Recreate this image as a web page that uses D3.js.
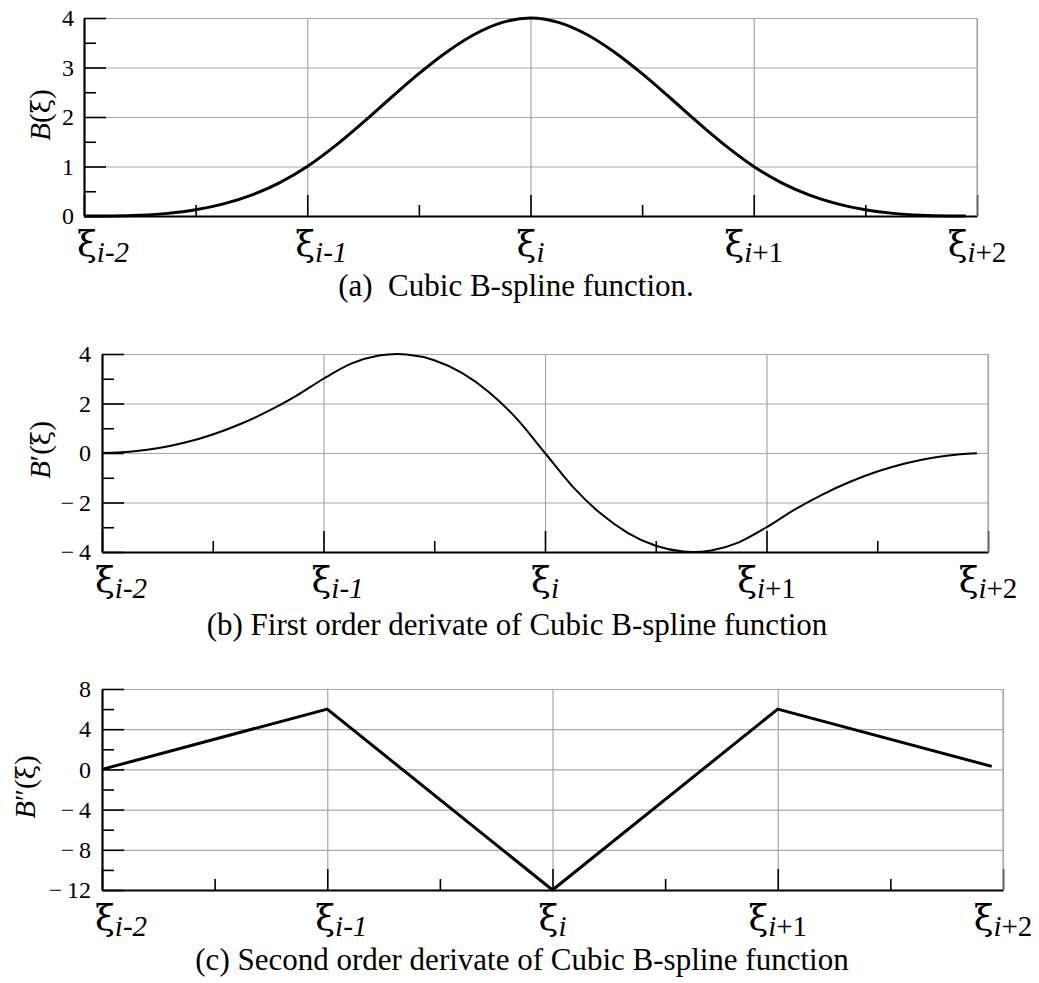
<!DOCTYPE html>
<html>
<head>
<meta charset="utf-8">
<script src="https://cdn.jsdelivr.net/npm/d3@7"></script>
<style>
  body { margin: 0; background: #fff; }
  svg { display: block; }
</style>
</head>
<body>
<div id="chart"></div>
<script>
// knots of the spline, in units of the knot spacing
const knots = [-2, -1, 0, 1, 2];
const knotSubs = ["-2", "-1", "", "+1", "+2"];
const minorKnots = [-1.5, -0.5, 0.5, 1.5];

// (a) B(xi)
const xsB = [-2, -1.875, -1.75, -1.625, -1.5, -1.375, -1.25, -1.125, -1, -0.875, -0.75, -0.625, -0.5, -0.375, -0.25, -0.125, 0,
  0.125, 0.25, 0.375, 0.5, 0.625, 0.75, 0.875, 1, 1.125, 1.25, 1.375, 1.5, 1.625, 1.75, 1.875, 1.95];
const valuesB = [0, 0.002, 0.016, 0.053, 0.125, 0.244, 0.422, 0.670, 1, 1.416, 1.891, 2.389, 2.875, 3.314, 3.672, 3.912, 4,
  3.912, 3.672, 3.314, 2.875, 2.389, 1.891, 1.416, 1, 0.670, 0.422, 0.244, 0.125, 0.053, 0.016, 0.002, 0];
const yMajorB = [0, 1, 2, 3, 4];
const yMinorB = [0.5, 1.5, 2.5, 3.5];

// (b) B'(xi)
const xsB1 = [-2, -1.875, -1.75, -1.625, -1.5, -1.375, -1.25, -1.125, -1, -0.875, -0.75, -0.667, -0.625, -0.5, -0.375, -0.25, -0.125, 0,
  0.125, 0.25, 0.375, 0.5, 0.625, 0.667, 0.75, 0.875, 1, 1.125, 1.25, 1.375, 1.5, 1.625, 1.75, 1.875, 1.95];
const valuesB1 = [0, 0.047, 0.188, 0.422, 0.75, 1.172, 1.688, 2.297, 3, 3.609, 3.938, 4, 3.984, 3.75, 3.234, 2.438, 1.359, 0,
  -1.359, -2.438, -3.234, -3.75, -3.984, -4, -3.938, -3.609, -3, -2.297, -1.688, -1.172, -0.75, -0.422, -0.188, -0.047, -0.008];
const yMajorB1 = [-4, -2, 0, 2, 4];
const yMinorB1 = [-3, -1, 1, 3];

// (c) B''(xi)
const xsB2 = [-2, -1, 0, 1, 1.95];
const valuesB2 = [0, 6, -12, 6, 0.3];
const yMajorB2 = [-12, -8, -4, 0, 4, 8];
const yMinorB2 = [-10, -6, -2, 2, 6];

const captions = [
  "(a)\u00a0 Cubic B-spline function.",
  "(b)\u00a0First order derivate of Cubic B-spline function",
  "(c) Second order derivate of Cubic B-spline function"
];

const width = 1039, height = 983;
const serif = "'Liberation Serif', 'Times New Roman', serif";
const greek = "'DejaVu Serif', serif";
const gridColor = "#a8a8a8";

const svg = d3.select("#chart").append("svg")
    .attr("width", width)
    .attr("height", height)
    .style("background", "#fff");

function fmtTick(d) {
  return d < 0 ? "\u2212\u2009" + Math.abs(d) : String(d);
}

function drawPanel(p) {
  const g = svg.append("g");
  const x = d3.scaleLinear().domain([-2, 2]).range([p.left, p.right]);
  const y = d3.scaleLinear().domain(d3.extent(p.yMajor)).range([p.bottom, p.top]);

  // horizontal grid
  g.append("g")
      .attr("transform", `translate(${p.left},0)`)
      .call(d3.axisLeft(y).tickValues(p.yMajor).tickSize(-(p.right - p.left)).tickFormat(""))
      .call(s => s.select(".domain").remove())
      .selectAll("line").attr("stroke", gridColor).attr("stroke-width", 1.2);

  // vertical grid at the knots
  g.append("g")
      .attr("transform", `translate(0,${p.bottom})`)
      .call(d3.axisBottom(x).tickValues(knots.slice(1)).tickSize(-(p.bottom - p.top)).tickFormat(""))
      .call(s => s.select(".domain").remove())
      .selectAll("line").attr("stroke", gridColor).attr("stroke-width", 1.2);

  // curve
  const line = d3.line()
      .x((d, i) => x(p.xs[i]))
      .y(d => y(d))
      .curve(p.curve);
  g.append("path")
      .datum(p.values)
      .attr("fill", "none")
      .attr("stroke", "#000")
      .attr("stroke-width", p.lineWidth)
      .attr("stroke-linejoin", "round")
      .attr("d", line);

  // y axis, ticks pointing inwards
  const yAxis = g.append("g")
      .attr("transform", `translate(${p.left},0)`)
      .call(d3.axisLeft(y).tickValues(p.yMajor).tickSize(-22).tickSizeOuter(0).tickPadding(p.tickPad).tickFormat(fmtTick));
  yAxis.select(".domain").attr("stroke-width", 2.2);
  yAxis.selectAll(".tick line").attr("stroke-width", 1.6);
  yAxis.selectAll("text")
      .attr("font-family", serif)
      .attr("font-size", 24)
      .attr("fill", "#000");

  g.append("g")
      .attr("transform", `translate(${p.left},0)`)
      .call(d3.axisLeft(y).tickValues(p.yMinor).tickSize(-12).tickFormat(""))
      .call(s => s.select(".domain").remove())
      .selectAll("line").attr("stroke-width", 1.6);

  // x axis
  const xAxis = g.append("g")
      .attr("transform", `translate(0,${p.bottom})`)
      .call(d3.axisBottom(x).tickValues(knots).tickSize(-21).tickSizeOuter(0).tickFormat(""));
  xAxis.select(".domain").attr("stroke-width", 2.2);
  xAxis.selectAll(".tick line").attr("stroke-width", 1.6);

  g.append("g")
      .attr("transform", `translate(0,${p.bottom})`)
      .call(d3.axisBottom(x).tickValues(minorKnots).tickSize(-11).tickFormat(""))
      .call(s => s.select(".domain").remove())
      .selectAll("line").attr("stroke-width", 1.6);

  // right border
  g.append("line")
      .attr("x1", x(2)).attr("x2", x(2))
      .attr("y1", p.top).attr("y2", p.bottom)
      .attr("stroke", gridColor).attr("stroke-width", 1.2);

  // knot labels
  const lab = g.append("g")
      .attr("font-family", serif)
      .selectAll("text")
      .data(knots)
      .join("text")
      .attr("x", (d, i) => x(d) + (i === 0 ? -7 : i === 1 ? -12 : 0))
      .attr("y", p.bottom + 40)
      .attr("text-anchor", (d, i) => i < 2 ? "start" : "middle");
  lab.append("tspan").attr("font-family", greek).attr("font-size", 36).text("\u03be");
  lab.append("tspan").attr("font-size", 29).attr("font-style", "italic").attr("dy", 6).text("i");
  lab.append("tspan").attr("font-size", 29)
      .attr("font-style", (d, i) => i < 2 ? "italic" : null)
      .text((d, i) => knotSubs[i]);

  // y label
  const yl = g.append("text")
      .attr("transform", `translate(${p.labelX},${p.labelY}) rotate(-90)`)
      .attr("text-anchor", "middle")
      .attr("font-family", serif)
      .attr("font-size", 29);
  yl.append("tspan").attr("font-style", "italic").text("B");
  yl.append("tspan").text(p.prime + "(");
  yl.append("tspan").attr("font-family", greek).attr("font-size", 26).text("\u03be");
  yl.append("tspan").text(")");

  // caption
  svg.append("text")
      .attr("x", p.capX)
      .attr("y", p.capY)
      .attr("text-anchor", "middle")
      .attr("font-family", serif)
      .attr("font-size", 31)
      .text(p.caption);
}

drawPanel({
  xs: xsB, values: valuesB, yMajor: yMajorB, yMinor: yMinorB,
  left: 84, right: 977, top: 18, bottom: 216, tickPad: 10,
  curve: d3.curveMonotoneX, lineWidth: 3,
  prime: "", labelX: 50, labelY: 115,
  caption: captions[0], capX: 516, capY: 296
});

drawPanel({
  xs: xsB1, values: valuesB1, yMajor: yMajorB1, yMinor: yMinorB1,
  left: 102, right: 988, top: 354, bottom: 552, tickPad: 11,
  curve: d3.curveMonotoneX, lineWidth: 2,
  prime: "\u2032", labelX: 50, labelY: 450,
  caption: captions[1], capX: 517, capY: 635
});

drawPanel({
  xs: xsB2, values: valuesB2, yMajor: yMajorB2, yMinor: yMinorB2,
  left: 102, right: 1003, top: 689, bottom: 890, tickPad: 11,
  curve: d3.curveLinear, lineWidth: 3,
  prime: "\u2033", labelX: 35, labelY: 787,
  caption: captions[2], capX: 522, capY: 970
});
</script>
</body>
</html>
